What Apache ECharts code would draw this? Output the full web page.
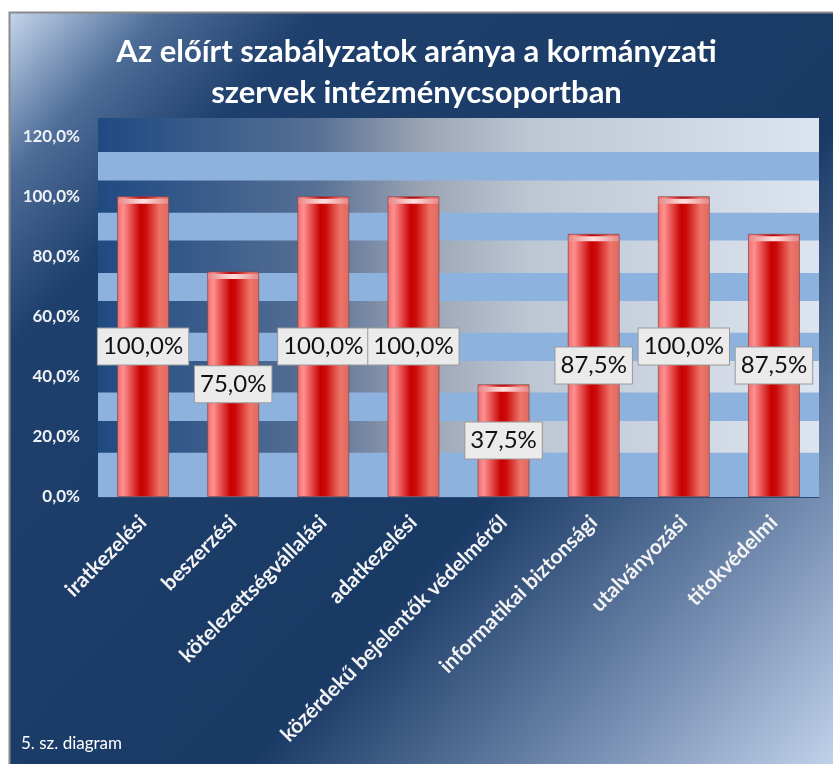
<!DOCTYPE html>
<html>
<head>
<meta charset="utf-8">
<script src="https://cdn.jsdelivr.net/npm/echarts@6/dist/echarts.min.js"></script>
<style>
  html, body { margin: 0; padding: 0; background: #fff; }
  #chart { width: 833px; height: 764px; }
</style>
</head>
<body>
<div id="chart"></div>
<script>
// adatok
const categories = ['iratkezelési', 'beszerzési', 'kötelezettségvállalási', 'adatkezelési',
    'közérdekű bejelentők védelméről', 'informatikai biztonsági', 'utalványozási', 'titokvédelmi'];
const values = [1, 0.75, 1, 1, 0.375, 0.875, 1, 0.875];
// a háttér sötét csíkjai (tengelyértékben)
const darkBands = [[0.147, 0.253], [0.347, 0.452], [0.546, 0.652], [0.745, 0.853], [0.945, 1.052], [1.147, 1.26]];

const pct = v => (v * 100).toFixed(1).replace('.', ',') + '%';
const FONT = 'Lato, "Open Sans", sans-serif';

const chart = echarts.init(document.getElementById('chart'));

const barGrad = new echarts.graphic.LinearGradient(0, 0, 1, 0, [
    { offset: 0, color: '#f06a6a' },
    { offset: 0.12, color: '#ff9090' },
    { offset: 0.45, color: '#c80000' },
    { offset: 0.55, color: '#cc0c0c' },
    { offset: 0.82, color: '#ee7468' },
    { offset: 1, color: '#de6a60' }
]);
const bandGrad = new echarts.graphic.LinearGradient(0, 0, 1, 0, [
    { offset: 0, color: '#1f4a82' },
    { offset: 0.3, color: '#566f95' },
    { offset: 0.45, color: '#9ba4b3' },
    { offset: 0.6, color: '#bdc7d4' },
    { offset: 1, color: '#dce4ef' }
]);

const option = {
    backgroundColor: '#fff',
    graphic: [
        {
            type: 'rect', z: -10, silent: true,
            shape: { x: 9.5, y: 12.5, width: 840, height: 770 },
            style: {
                fill: new echarts.graphic.LinearGradient(0, 0, 1, 1, [
                    { offset: 0, color: '#c6d7ec' },
                    { offset: 0.1, color: '#4d6c98' },
                    { offset: 0.2, color: '#1f3f6c' },
                    { offset: 0.6, color: '#1a3a66' },
                    { offset: 0.82, color: '#7890b3' },
                    { offset: 1, color: '#c9dbf1' }
                ]),
                stroke: '#8a8a8a', lineWidth: 2
            }
        },
        {
            type: 'text', left: 21, top: 735, silent: true,
            style: { text: '5. sz. diagram', fill: '#fff', font: '17px ' + FONT }
        }
    ],
    title: {
        text: 'Az előírt szabályzatok aránya a kormányzati\nszervek intézménycsoportban',
        left: 'center',
        top: 26,
        textStyle: { color: '#fff', fontSize: 31, fontWeight: 'bold', lineHeight: 41, fontFamily: FONT }
    },
    grid: {
        left: 98, right: 14, top: 118, bottom: 267,
        show: true, backgroundColor: '#8eb2de', borderWidth: 0
    },
    xAxis: {
        type: 'category',
        data: categories,
        axisLine: { show: true, lineStyle: { color: '#2a4b78', width: 1 } },
        axisTick: { show: false },
        axisLabel: {
            interval: 0, rotate: 45, margin: 22,
            color: '#f4f4f4', fontSize: 21, fontWeight: 'bold', fontFamily: FONT
        }
    },
    yAxis: {
        type: 'value',
        min: 0, max: 1.26, interval: 0.2,
        axisLine: { show: false },
        axisTick: { show: false },
        splitLine: { show: false },
        axisLabel: {
            showMaxLabel: false, margin: 18,
            color: '#eef1f5', fontSize: 17, fontWeight: 'bold', fontFamily: FONT,
            formatter: v => pct(v)
        }
    },
    series: [
        {
            type: 'line', data: [], silent: true, z: 0,
            markArea: {
                silent: true,
                itemStyle: { color: bandGrad },
                data: darkBands.map(b => [{ yAxis: b[0] }, { yAxis: b[1] }])
            }
        },
        {
            type: 'bar', data: values, barWidth: 52, barGap: '-100%', z: 2,
            itemStyle: { color: barGrad, borderColor: 'rgba(130,70,70,0.7)', borderWidth: 1 },
            label: {
                show: true, position: 'inside',
                formatter: p => pct(p.value),
                color: '#111', fontSize: 24, fontFamily: FONT,
                backgroundColor: '#ebebeb', borderColor: '#9a9a9a', borderWidth: 1,
                padding: [7, 5, 5, 5]
            }
        },
        {
            type: 'pictorialBar', data: values, barWidth: 52, barGap: '-100%', z: 3,
            symbol: 'rect', symbolSize: [50, 5], symbolPosition: 'end', symbolOffset: [0, '50%'],
            itemStyle: {
                color: new echarts.graphic.LinearGradient(0, 0, 1, 0, [
                    { offset: 0, color: '#e88888' },
                    { offset: 0.5, color: '#fde2e2' },
                    { offset: 1, color: '#e88888' }
                ])
            },
            silent: true
        }
    ]
};

chart.setOption(option);
</script>
</body>
</html>
